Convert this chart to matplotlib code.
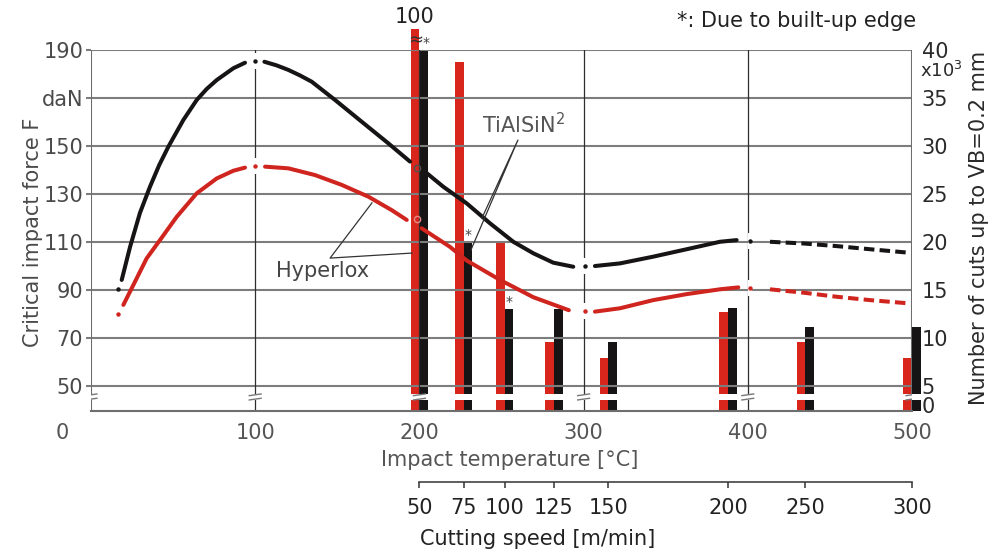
import matplotlib
matplotlib.use('Agg')
import matplotlib.pyplot as plt
import numpy as np

plt.rcParams['font.family'] = ['DejaVu Sans', 'Noto Sans']

# ---------------- data ----------------
temp_ticks = [0, 100, 200, 300, 400, 500]
force_ticks = [50, 70, 90, 110, 130, 150, 170, 190]
force_labels = ['50', '70', '90', '110', '130', '150', 'daN', '190']
cuts_ticks = [0, 5, 10, 15, 20, 25, 30, 35, 40]

speeds = [50, 75, 100, 125, 150, 200, 250, 300]
speed_temp = [200, 227, 252, 282, 315, 388, 435, 500]   # impact temperature at each cutting speed
cuts_hyperlox = [100, 38.8, 20, 9.6, 7.9, 12.7, 9.6, 7.9]   # x10^3 mm
cuts_tialsin = [40, 20, 13, 13, 9.6, 13.1, 11.2, 11.2]
bue_tialsin = [True, True, True, False, False, False, False, False]

# critical impact force curves (segments between the 100 degC grid lines)
tialsin_T = [
    [18.7, 23.8, 29.8, 35.9, 41.5, 47.1, 56.2, 64.4, 70.5, 76.6, 86.7, 93.8],
    [105.6, 113.0, 120.2, 127.3, 134.4, 148.6, 164.9, 181.1, 194.3],
    [203.4, 214.6, 228.8, 243.0, 257.2, 269.4, 281.5, 293.7],
    [306.9, 322.2, 342.4, 362.8, 383.0, 393.2],
    [413.5, 433.8, 454.1, 474.4, 498.8],
]
tialsin_F = [
    [94.2, 108.0, 122.1, 133.0, 142.0, 149.7, 160.8, 169.2, 173.8, 177.5, 182.4, 184.7],
    [185.1, 183.6, 181.7, 179.4, 176.8, 169.2, 160.1, 151.1, 143.5],
    [139.3, 133.0, 126.1, 117.8, 110.1, 105.3, 101.4, 99.7],
    [100.0, 101.1, 103.9, 107.0, 110.1, 110.8],
    [110.1, 109.4, 108.3, 107.0, 105.5],
]
hyperlox_T = [
    [19.7, 25.8, 33.9, 42.0, 52.2, 64.4, 76.6, 86.7, 93.8],
    [106.0, 120.2, 136.4, 152.7, 168.9, 183.1, 192.3],
    [201.4, 218.6, 228.8, 249.1, 269.4, 291.0],
    [306.9, 322.2, 342.4, 362.8, 383.0, 394.2],
    [413.5, 433.8, 454.1, 474.4, 498.8],
]
hyperlox_F = [
    [83.8, 92.1, 103.2, 110.8, 120.5, 130.3, 136.5, 139.7, 141.0],
    [141.4, 140.7, 137.9, 133.8, 128.9, 123.3, 119.2],
    [115.7, 108.0, 102.3, 94.2, 87.0, 81.6],
    [81.0, 82.4, 85.8, 88.3, 90.3, 91.1],
    [90.3, 88.9, 87.2, 85.8, 84.4],
]
node_T = [16.4, 100, 198.3, 300.6, 401.3]
tialsin_node_F = [90.4, 185.5, 140.7, 100.0, 110.5]
hyperlox_node_F = [80.0, 141.8, 119.6, 81.2, 90.8]

RED = '#d8261d'
BLACK = '#161414'
GRID = '#7d7d7d'
TXT = '#4a4a4a'
FS = 15

# scale mapping of the right axis (x10^3 mm) onto the force axis (daN)
cut_scale_r = [0, 5, 40]
cut_scale_f = [42.1, 50, 190]
def cuts_to_force(r):
    r = np.asarray(r, dtype=float)
    return np.where(r >= 5, 50 + (r - 5) * 4.0, np.interp(r, cut_scale_r, cut_scale_f))

YMIN, YMAX = 39.6, 190
BAR_CAP = 42.2   # visible top of broken bars

fig = plt.figure(figsize=(10.03, 5.56), dpi=100)
ax = fig.add_axes([91 / 1003, 145 / 556, 821 / 1003, 361 / 556])
ax.set_xlim(0, 500)
ax.set_ylim(YMIN, YMAX)

# ---------------- bars ----------------
w = 5.3
sp = np.array(speed_temp, dtype=float)
h_red = cuts_to_force(np.minimum(cuts_hyperlox, BAR_CAP)) - YMIN
h_blk = cuts_to_force(np.minimum(cuts_tialsin, BAR_CAP)) - YMIN
ax.bar(sp - w / 2, h_red, width=w, bottom=YMIN, color=RED, zorder=1.5, clip_on=False, linewidth=0)
ax.bar(sp + w / 2, h_blk, width=w, bottom=YMIN, color=BLACK, zorder=1.5, clip_on=False, linewidth=0)

# break band through the bars
ax.axhspan(44.3, 46.6, xmin=0, xmax=1.025, color='white', zorder=1.9, clip_on=False, linewidth=0)

# ---------------- grid ----------------
for f in force_ticks:
    ax.axhline(f, color=GRID, lw=1.5, zorder=1.8)
for t in temp_ticks:
    if t in (0, 500):
        ax.axvline(t, color='#6e6e6e', lw=1.5, zorder=1.8)
    else:
        ax.axvline(t, color='#2e2e2e', lw=0.9, zorder=1.8)
    # axis-break symbol
    ax.plot([t, t], [44.4, 46.5], color='white', lw=4, zorder=1.95, solid_capstyle='butt')
    ax.plot([t - 3.6, t + 3.6], [44.2, 44.9], color='#777777', lw=1.0, zorder=2.0)
    ax.plot([t - 3.6, t + 3.6], [46.0, 46.7], color='#777777', lw=1.0, zorder=2.0)

for s in ['top', 'left', 'right']:
    ax.spines[s].set_visible(False)
ax.spines['bottom'].set_color('#6e6e6e')
ax.spines['bottom'].set_linewidth(1.5)

# ---------------- curves ----------------
for T_list, F_list, col in [(tialsin_T, tialsin_F, BLACK), (hyperlox_T, hyperlox_F, '#d0251f')]:
    n = len(T_list)
    for i in range(n):
        if i == n - 1:
            ax.plot(T_list[i], F_list[i], color=col, lw=2.9, ls=(0, (2.6, 1.3)), zorder=3,
                    solid_capstyle='butt', dash_capstyle='butt')
        else:
            ax.plot(T_list[i], F_list[i], color=col, lw=2.9, zorder=3, solid_capstyle='round',
                    solid_joinstyle='round')

for nf, col, hol in [(tialsin_node_F, BLACK, '#505050'), (hyperlox_node_F, '#d0251f', '#e58a86')]:
    for j, (t, f) in enumerate(zip(node_T, nf)):
        if j == 2:
            ax.plot(t, f, 'o', ms=4.5, mfc='none', mec=hol, mew=1.0, zorder=3.2)
        else:
            if j > 0:
                ax.plot(t, f, '|', ms=12, mec='white', mew=3, zorder=2.9)
            ax.plot(t, f, 'o', ms=3.2, color=col, mew=0, zorder=3.2)

# ---------------- axes ticks ----------------
ax.set_yticks(force_ticks, force_labels)
ax.tick_params(axis='y', direction='out', length=3.6, width=1.5, color=GRID, pad=2,
               labelsize=FS, labelcolor=TXT)
ax.set_xticks(temp_ticks, [''] + [str(t) for t in temp_ticks[1:]])
ax.tick_params(axis='x', length=0, pad=8.6, labelsize=FS, labelcolor='#555555')
ax.annotate('0', xy=(-17.7, 0), xycoords=ax.get_xaxis_transform(), xytext=(0, -8.6),
            textcoords='offset points', ha='center', va='top', fontsize=FS, color='#555555',
            annotation_clip=False)

ax2 = ax.twinx()
ax2.set_ylim(YMIN, YMAX)
ax2.set_yticks(cuts_to_force(cuts_ticks), [str(c) for c in cuts_ticks])
ax2.tick_params(axis='y', length=0, pad=7, labelsize=FS, labelcolor='#2a2a2a')
for s in ax2.spines.values():
    s.set_visible(False)

# cutting-speed axis
ax3 = fig.add_axes([91 / 1003, (556 - 482) / 556, 821 / 1003, 0.0001])
ax3.set_xlim(0, 500)
ax3.set_yticks([])
for s in ['top', 'left', 'right']:
    ax3.spines[s].set_visible(False)
ax3.spines['bottom'].set_bounds(speed_temp[0], speed_temp[-1])
ax3.spines['bottom'].set_color('#333333')
ax3.spines['bottom'].set_linewidth(1.1)
ax3.patch.set_visible(False)
ax3.set_xticks(speed_temp, [str(s) for s in speeds])
ax3.tick_params(axis='x', direction='out', length=4.3, width=1.1, color='#333333', pad=7,
                labelsize=FS, labelcolor='#222222')

# ---------------- texts ----------------
fig.text(33 / 1003, 1 - 232 / 556, 'Critical impact force F', rotation=90, ha='center',
         va='center', fontsize=FS, color=TXT)
fig.text(979 / 1003, 1 - 228 / 556, 'Number of cuts up to VB=0.2 mm', rotation=90, ha='center',
         va='center', fontsize=FS, color='#2a2a2a')
fig.text(920 / 1003, 1 - 71 / 556, 'x10$^3$', ha='left', va='center', fontsize=13,
         color='#2a2a2a')
fig.text(510 / 1003, 1 - 460 / 556, 'Impact temperature [°C]', ha='center', va='center',
         fontsize=FS, color='#555555')
fig.text(538 / 1003, 1 - 539 / 556, 'Cutting speed [m/min]', ha='center', va='center',
         fontsize=FS, color='#222222')
fig.text(916 / 1003, 1 - 21 / 556, '*: Due to built-up edge', ha='right', va='center',
         fontsize=FS, color='#222222')

# broken bar label and symbols
ax.text(sp[0] - w / 2, 203.8, str(cuts_hyperlox[0]), ha='center', va='center', fontsize=FS,
        color='#222222', clip_on=False)
ax.text(sp[0] - w / 2 + 0.5, 193.8, '≈', ha='center', va='center', fontsize=13, color='#333333',
        clip_on=False)
for k, flag in enumerate(bue_tialsin):
    if flag:
        top = cuts_to_force(min(cuts_tialsin[k], BAR_CAP))
        ax.annotate('*', xy=(sp[k] + w / 2 + (1.5 if k == 0 else 0), top), xytext=(0, 0),
                    textcoords='offset points', ha='center', va='bottom', fontsize=10,
                    color='#444444', annotation_clip=False)

# series labels with leader lines
ax.text(141.3, 97.9, 'Hyperlox', ha='center', va='center', fontsize=FS, color='#444444', zorder=4)
ax.plot([171.1, 145.6, 195.5], [126.3, 103.3, 105.4], color='#333333', lw=0.9, zorder=3.5)
ax.text(263.7, 158.8, 'TiAlSiN$^2$', ha='center', va='center', fontsize=FS, color='#555555',
        zorder=4)
ax.plot([238.1, 260.0, 231.4], [120.0, 152.5, 106.7], color='#333333', lw=0.9, zorder=3.5)

fig.savefig('out.png', dpi=100)
